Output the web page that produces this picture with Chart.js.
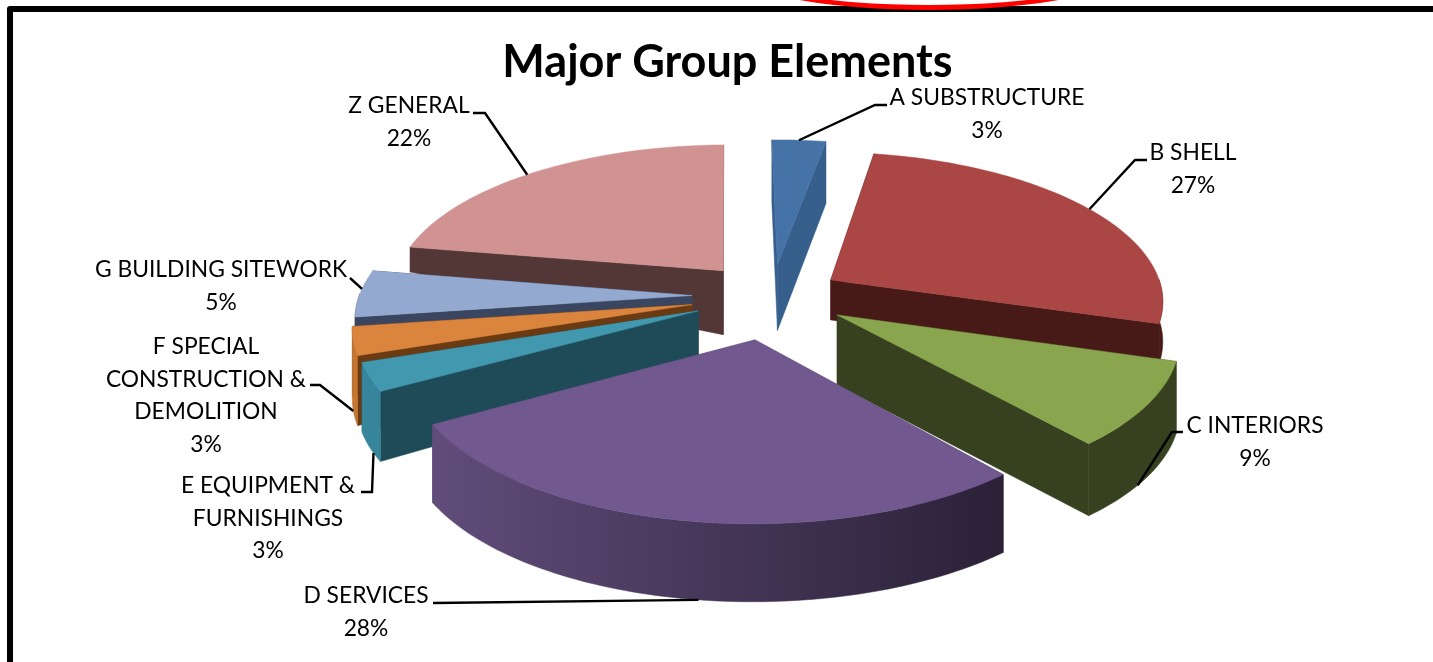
<!DOCTYPE html>
<html>
<head>
<meta charset="utf-8">
<title>Major Group Elements</title>
<script src="https://cdn.jsdelivr.net/npm/chart.js@4"></script>
<style>
  html, body { margin: 0; background: #fff; overflow: hidden; }
  #stage { position: relative; width: 1433px; height: 662px; overflow: hidden; }
  #frame { position: absolute; left: 7px; top: 6px; width: 1500px; height: 800px;
           border: 6px solid #000; border-radius: 3px; box-sizing: border-box; }
  #oval { position: absolute; left: 729px; top: -74px; width: 400px; height: 84px;
          border: 5px solid #f00; border-radius: 50%; box-sizing: border-box; }
  canvas { position: absolute; left: 0; top: 0; }
</style>
</head>
<body>
<div id="stage">
  <canvas id="pie" width="1433" height="662"></canvas>
  <div id="frame"></div>
  <div id="oval"></div>
</div>
<script>
// --- Data ---
const categories = ["A SUBSTRUCTURE", "B SHELL", "C INTERIORS", "D SERVICES",
  "E EQUIPMENT & FURNISHINGS", "F SPECIAL CONSTRUCTION & DEMOLITION",
  "G BUILDING SITEWORK", "Z GENERAL"];
const shares = [3, 27, 9, 28, 3, 3, 5, 22];

// --- Slice styling ---
const sliceColors = ["#4572A7", "#AA4643", "#89A54E", "#71588F", "#4198AF", "#DB843D", "#93A9CF", "#D19392"];
const wallColors = ["#365F8C", "#471A18", "#37401F", "#5A4672", "#1F4B58", "#6A3A12", "#3A4660", "#533636"];
const rimStart = ["#365F8C", "#471A18", "#37401F", "#614C7A", "#37859B", "#C4752F", "#3A4660", "#533636"];
const rimEnd = ["#365F8C", "#471A18", "#37401F", "#2A2137", "#37859B", "#C4752F", "#3A4660", "#533636"];
const sliceOffsets = [176, 168, 184, 232, 192, 196, 192, 184]; // chart.js offset, px*4
const wallInner = [66, 40, 70, 78, 60, 30, 20, 64];
const wallOuter = [62, 40, 72, 78, 70, 70, 12, 25];
const drawOrder = [0, 7, 1, 6, 5, 4, 2, 3];
const firstAngle = -1;

// --- Text layout ---
const labelLines = [["A SUBSTRUCTURE"], ["B SHELL"], ["C INTERIORS"], ["D SERVICES"],
  ["E EQUIPMENT &", "FURNISHINGS"], ["F SPECIAL", "CONSTRUCTION &", "DEMOLITION"],
  ["G BUILDING SITEWORK"], ["Z GENERAL"]];
const labelX = [987, 1193, 1255, 366, 268, 206, 221, 409];
const labelY = [98, 153, 426, 596, 486, 347, 270, 106];
const leaderVia = [[[875, 105], [887, 105]], [[1135, 160], [1147, 160]], [[1172, 432], [1183, 432]],
  [[433, 603]], [[372, 492], [361, 492]], [[320, 385], [310, 385]], [[350, 278]], [[485, 113], [473, 113]]];
const leaderAngle = [0.5, 0.5, 0.6, 0.48, 0.3, 0.5, 0.6, 0.48];  // where along the slice the leader lands
const leaderDepth = [0, 0, 1, 1, 1, 1, 0, 0];
const labelFont = "22.8px Lato";
const lineStep = 32.5;

// --- Fake 3D projection ---
const CX = 772, CY = 296, RX = 333, RY = 148, PERSP = 0.128;

function project(u, v) {
  const s = 1 / (1 - PERSP * v);
  return { x: CX + RX * u * s, y: CY + RY * v * s };
}

function sliceGeom(el) {
  const mid = (el.startAngle + el.endAngle) / 2;
  const k = (el.options.offset || 0) / 4 / el.outerRadius;
  return { ox: Math.cos(mid) * k, oy: Math.sin(mid) * k, a0: el.startAngle, a1: el.endAngle };
}

function rimPoint(g, a) {
  return project(g.ox + Math.cos(a), g.oy + Math.sin(a));
}

function fillPoly(ctx, pts, fill) {
  ctx.beginPath();
  pts.forEach((p, i) => (i ? ctx.lineTo(p.x, p.y) : ctx.moveTo(p.x, p.y)));
  ctx.closePath();
  ctx.fillStyle = fill;
  ctx.fill();
  ctx.strokeStyle = fill;
  ctx.lineWidth = 0.5;
  ctx.stroke();
}

function drawSlice(ctx, el, i) {
  const g = sliceGeom(el);
  const apex = project(g.ox, g.oy);
  const steps = Math.max(4, Math.ceil((g.a1 - g.a0) / 0.02));
  const arc = [];
  for (let n = 0; n <= steps; n++) arc.push(g.a0 + (g.a1 - g.a0) * n / steps);
  const down = (p, d) => ({ x: p.x, y: p.y + d });

  // radial walls first, they sit under the rim and the top
  [g.a0, g.a1].forEach((a) => {
    const c = rimPoint(g, a);
    fillPoly(ctx, [apex, c, down(c, wallOuter[i]), down(apex, wallInner[i])], wallColors[i]);
  });

  // rim, only the part that faces the viewer
  const front = arc.filter((a) => Math.sin(a) > -0.02);
  if (front.length > 1) {
    const top = front.map((a) => rimPoint(g, a));
    const bottom = top.map((p) => down(p, wallOuter[i])).reverse();
    const xs = top.map((p) => p.x);
    const grad = ctx.createLinearGradient(Math.min(...xs), 0, Math.max(...xs), 0);
    grad.addColorStop(0, rimStart[i]);
    grad.addColorStop(1, rimEnd[i]);
    fillPoly(ctx, top.concat(bottom), grad);
  }

  // top face
  fillPoly(ctx, [apex].concat(arc.map((a) => rimPoint(g, a))), el.options.backgroundColor);
}

const pie3d = {
  id: "pie3d",
  beforeDatasetDraw(chart) {
    const arcs = chart.getDatasetMeta(0).data;
    drawOrder.forEach((i) => drawSlice(chart.ctx, arcs[i], i));
    return false;
  },
  afterDatasetsDraw(chart) {
    const ctx = chart.ctx;
    const arcs = chart.getDatasetMeta(0).data;
    ctx.save();
    ctx.strokeStyle = "#000";
    ctx.lineWidth = 2.4;
    ctx.fillStyle = "#000";
    ctx.font = labelFont;
    ctx.textAlign = "center";
    ctx.textBaseline = "middle";
    arcs.forEach((el, i) => {
      const g = sliceGeom(el);
      const a = g.a0 + (g.a1 - g.a0) * leaderAngle[i];
      const start = rimPoint(g, a);
      ctx.beginPath();
      ctx.moveTo(start.x, start.y + wallOuter[i] * leaderDepth[i]);
      leaderVia[i].forEach((p) => ctx.lineTo(p[0], p[1]));
      ctx.stroke();
      const lines = labelLines[i].concat([shares[i] + "%"]);
      lines.forEach((t, n) => ctx.fillText(t, labelX[i], labelY[i] + n * lineStep));
    });
    ctx.restore();
  },
};

new Chart(document.getElementById("pie"), {
  type: "pie",
  data: {
    labels: categories,
    datasets: [{ data: shares, backgroundColor: sliceColors, offset: sliceOffsets, borderWidth: 0, hoverOffset: 0 }],
  },
  options: {
    responsive: false,
    animation: false,
    radius: 200,
    rotation: firstAngle,
    layout: { padding: { left: 22 } },
    plugins: {
      legend: { display: false },
      tooltip: { enabled: false },
      title: {
        display: true,
        text: "Major Group Elements",
        color: "#000",
        font: { family: "Lato", size: 45, weight: "bold" },
        padding: { top: 35, bottom: 0 },
      },
    },
  },
  plugins: [pie3d],
});
</script>
</body>
</html>
